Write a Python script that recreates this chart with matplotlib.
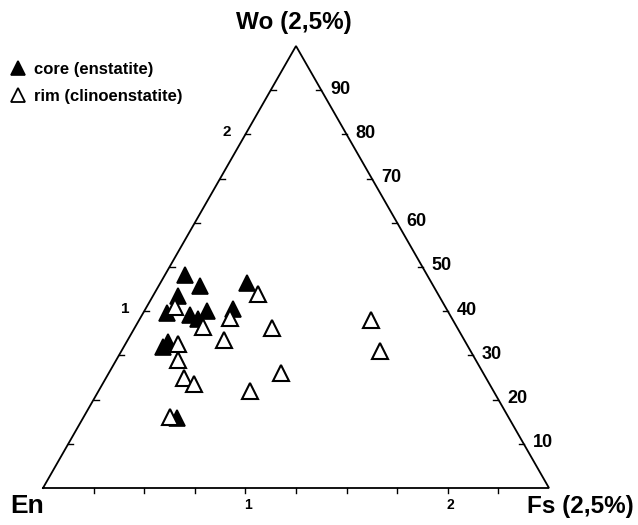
import numpy as np
import matplotlib
matplotlib.use("Agg")
import matplotlib.pyplot as plt
from matplotlib.lines import Line2D

plt.rcParams['font.family'] = ['Liberation Sans', 'DejaVu Sans']

# Ternary data (Wo %, Fs %), En = remainder; diagram is 2.5 % corner
core_wo = [1.205, 1.143, 1.159, 1.086, 0.990, 0.978, 1.001, 0.956, 1.012, 0.797, 0.826, 0.396]
core_fs = [0.099, 0.204, 0.428, 0.124, 0.118, 0.237, 0.310, 0.288, 0.433, 0.194, 0.205, 0.464]
rim_wo = [1.097, 1.024, 0.911, 0.962, 0.905, 0.837, 0.814, 0.724, 0.622, 0.588, 0.549, 0.650, 0.402, 0.950, 0.775]
rim_fs = [0.514, 0.140, 0.335, 0.443, 0.679, 0.476, 0.260, 0.305, 0.386, 0.452, 0.749, 0.851, 0.427, 1.146, 1.278]

side = 2.5
tick_vals = [0.25 * k for k in range(1, 10)]
base_labels = {1.0: "1", 2.0: "2"}
left_labels = {1.0: "1", 2.0: "2"}
right_labels = [str(10 * k) for k in range(1, 10)]

H = np.sqrt(3) / 2


def cart(wo, fs):
    wo = np.asarray(wo, float)
    fs = np.asarray(fs, float)
    return fs + wo / 2, wo * H


fig = plt.figure(figsize=(6.38, 5.25), dpi=100)
ax = fig.add_axes([0, 0, 1, 1])
sx = 506 / side
sy = 442 / (side * H)
ax.set_xlim(-43 / sx, (638 - 43) / sx)
ax.set_ylim(-(525 - 488) / sy, 488 / sy)
ax.axis('off')

# triangle
tx, ty = cart([0, 0, side, 0], [0, side, 0, 0])
ax.plot(tx, ty, color='black', lw=1.3, solid_joinstyle='miter', zorder=2)

px = 0.72  # points per pixel
tl = 5.0   # tick length in pixels
# bottom ticks
for v in tick_vals:
    x, y = cart(0, v)
    ax.plot([x, x], [y, y - tl / sy], color='black', lw=1.0)
    if v in base_labels:
        ax.annotate(base_labels[v], xy=(x, y), xytext=(3 * px, -17 * px), textcoords='offset points',
                    ha='center', va='center', fontsize=10, fontweight='bold')
# left ticks (En-Wo side)
for v in tick_vals:
    x, y = cart(v, 0)
    ax.plot([x, x + tl / sx], [y, y], color='black', lw=1.0)
    if v in left_labels:
        ax.annotate(left_labels[v], xy=(x, y), xytext=(-19 * px, 2 * px), textcoords='offset points',
                    ha='center', va='center', fontsize=11, fontweight='bold')
# right ticks (Fs-Wo side)
for v, lab in zip(tick_vals, right_labels):
    x, y = cart(v, side - v)
    ax.plot([x, x - tl / sx], [y, y], color='black', lw=1.0)
    ax.annotate(lab, xy=(x, y), xytext=(9 * px, 1 * px), textcoords='offset points',
                ha='left', va='center', fontsize=13, fontweight='bold')

# vertex labels
x, y = cart(0, 0)
ax.annotate('En', xy=(x, y), xytext=(-16 * px, -18 * px), textcoords='offset points',
            ha='center', va='center', fontsize=19, fontweight='bold')
x, y = cart(0, side)
ax.annotate('Fs (2,5%)', xy=(x, y), xytext=(31 * px, -18 * px), textcoords='offset points',
            ha='center', va='center', fontsize=17.5, fontweight='bold')
x, y = cart(side, 0)
ax.annotate('Wo (2,5%)', xy=(x, y), xytext=(-2 * px, 24 * px), textcoords='offset points',
            ha='center', va='center', fontsize=17.5, fontweight='bold')

# data
cx, cy = cart(core_wo, core_fs)
rx, ry = cart(rim_wo, rim_fs)
ax.plot(cx, cy, linestyle='none', marker='^', ms=11.5, mfc='black', mec='black', mew=1.2, zorder=3)
ax.plot(rx, ry, linestyle='none', marker='^', ms=11.5, mfc='white', mec='black', mew=1.5, zorder=4)

handles = [Line2D([], [], linestyle='none', marker='^', ms=10, mfc='black', mec='black', mew=1.2),
           Line2D([], [], linestyle='none', marker='^', ms=10, mfc='white', mec='black', mew=1.3)]
leg = ax.legend(handles, ['core (enstatite)', 'rim (clinoenstatite)'], loc='upper left',
                bbox_to_anchor=(0.0, 0.905), frameon=False, handlelength=0.8, handletextpad=0.55,
                labelspacing=0.75, borderaxespad=0.3, prop={'weight': 'bold', 'size': 12})

fig.savefig('out.png', dpi=100)
